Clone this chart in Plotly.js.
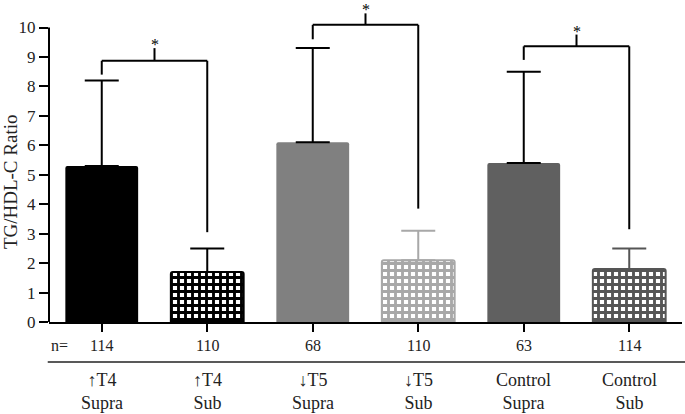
<!DOCTYPE html>
<html>
<head>
<meta charset="utf-8">
<script src="https://cdn.plot.ly/plotly-3.0.1.min.js"></script>
<style>html,body{margin:0;padding:0;background:#fff;}#chart{width:685px;height:414px;}</style>
</head>
<body>
<div id="chart"></div>
<script>
// ---- data ----
const categories = ['↑T4<br>Supra', '↑T4<br>Sub', '↓T5<br>Supra', '↓T5<br>Sub', 'Control<br>Supra', 'Control<br>Sub'];
const means = [5.3, 1.7, 6.1, 2.1, 5.4, 1.8];
const sdUpper = [2.9, 0.8, 3.2, 1.0, 3.1, 0.7];
const nValues = [114, 110, 68, 110, 63, 114];
const barColors = ['#000000', '#000000', '#808080', '#a8a8a8', '#606060', '#555555'];
const errColors = ['#000000', '#000000', '#000000', '#a8a8a8', '#000000', '#555555'];
const patterned = [false, true, false, true, false, true];

// significance brackets (pairs of category indices)
const sigPairs = [[0, 1], [2, 3], [4, 5]];
const bracketLeftFrom = [8.4, 9.6, 8.9];
const bracketY = [8.87, 10.09, 9.36];
const bracketRightTo = [3.05, 3.85, 3.15];
const bracketTickTop = [9.3, 10.48, 9.76];
const sigLabels = ['*', '*', '*'];

const serif = 'Liberation Serif';

const traces = categories.map((c, i) => ({
  type: 'bar',
  x: [c],
  y: [means[i]],
  width: 0.69,
  marker: patterned[i] ? {
    color: '#ffffff',
    pattern: {shape: '+', fgcolor: barColors[i], bgcolor: '#ffffff', size: 7, solidity: 0.65},
    line: {color: barColors[i], width: 2}
  } : {
    color: barColors[i],
    line: {color: barColors[i], width: 0}
  },
  error_y: {
    type: 'data', symmetric: false, array: [sdUpper[i]], arrayminus: [0],
    color: errColors[i], thickness: 2, width: 17
  },
  showlegend: false,
  hoverinfo: 'skip'
}));

const shapes = [];
sigPairs.forEach((p, k) => {
  const a = p[0], b = p[1], mid = (a + b) / 2;
  const ln = {color: '#000', width: 2};
  shapes.push({type: 'line', xref: 'x', yref: 'y', x0: a, x1: a, y0: bracketLeftFrom[k], y1: bracketY[k], line: ln});
  shapes.push({type: 'line', xref: 'x', yref: 'y', x0: a, x1: b, y0: bracketY[k], y1: bracketY[k], line: ln});
  shapes.push({type: 'line', xref: 'x', yref: 'y', x0: b, x1: b, y0: bracketY[k], y1: bracketRightTo[k], line: ln});
  shapes.push({type: 'line', xref: 'x', yref: 'y', x0: mid, x1: mid, y0: bracketY[k], y1: bracketTickTop[k], line: ln});
});
// y axis line (0..10 only)
shapes.push({type: 'line', xref: 'paper', yref: 'y', x0: 0, x1: 0, y0: 0, y1: 10, line: {color: '#000', width: 2}});
// separator line under n row
shapes.push({type: 'line', xref: 'paper', yref: 'paper', x0: -0.002, x1: 1.01, y0: -40 / 321, y1: -40 / 321, line: {color: '#222', width: 1.5}});

const annotations = [];
sigPairs.forEach((p, k) => {
  annotations.push({xref: 'x', yref: 'y', x: (p[0] + p[1]) / 2, y: bracketTickTop[k], text: sigLabels[k],
    showarrow: false, yanchor: 'bottom', yshift: -7, font: {family: serif, size: 16, color: '#000'}});
});
annotations.push({xref: 'x', yref: 'paper', x: -0.5, y: 0, xanchor: 'left', yanchor: 'middle', yshift: -23,
  text: 'n=', showarrow: false, font: {family: serif, size: 16, color: '#222'}});
categories.forEach((c, i) => {
  annotations.push({xref: 'x', yref: 'paper', x: c, y: 0, yanchor: 'middle', yshift: -23,
    text: String(nValues[i]), showarrow: false, font: {family: serif, size: 16, color: '#222'}});
  annotations.push({xref: 'x', yref: 'paper', x: c, y: 0, yanchor: 'middle', yshift: -69,
    text: c, showarrow: false, font: {family: serif, size: 18, color: '#222'}});
});
annotations.push({xref: 'paper', yref: 'y', x: -39 / 633, xanchor: 'center', yanchor: 'middle', y: 4.75, textangle: -90,
  text: 'TG/HDL-C Ratio', showarrow: false, font: {family: serif, size: 19, color: '#222'}});

const layout = {
  width: 685, height: 414,
  margin: {l: 49, r: 3, t: 1, b: 92},
  paper_bgcolor: '#fff', plot_bgcolor: '#fff',
  barmode: 'overlay',
  barcornerradius: 2,
  xaxis: {
    type: 'category', range: [-0.5, 5.5], categoryorder: 'array', categoryarray: categories,
    showline: true, linecolor: '#000', linewidth: 2,
    ticks: 'outside', ticklen: 8, tickwidth: 2, tickcolor: '#000',
    showticklabels: false, showgrid: false, zeroline: false, fixedrange: true
  },
  yaxis: {
    range: [0, 10.9], tickvals: [0, 1, 2, 3, 4, 5, 6, 7, 8, 9, 10],
    ticks: 'outside', ticklen: 9, tickwidth: 2, tickcolor: '#000',
    showline: false, showgrid: false, zeroline: false,
    tickfont: {family: serif, size: 17, color: '#222'}, fixedrange: true
  },
  shapes: shapes,
  annotations: annotations
};

Plotly.newPlot('chart', traces, layout, {displayModeBar: false, staticPlot: true});
</script>
</body>
</html>
